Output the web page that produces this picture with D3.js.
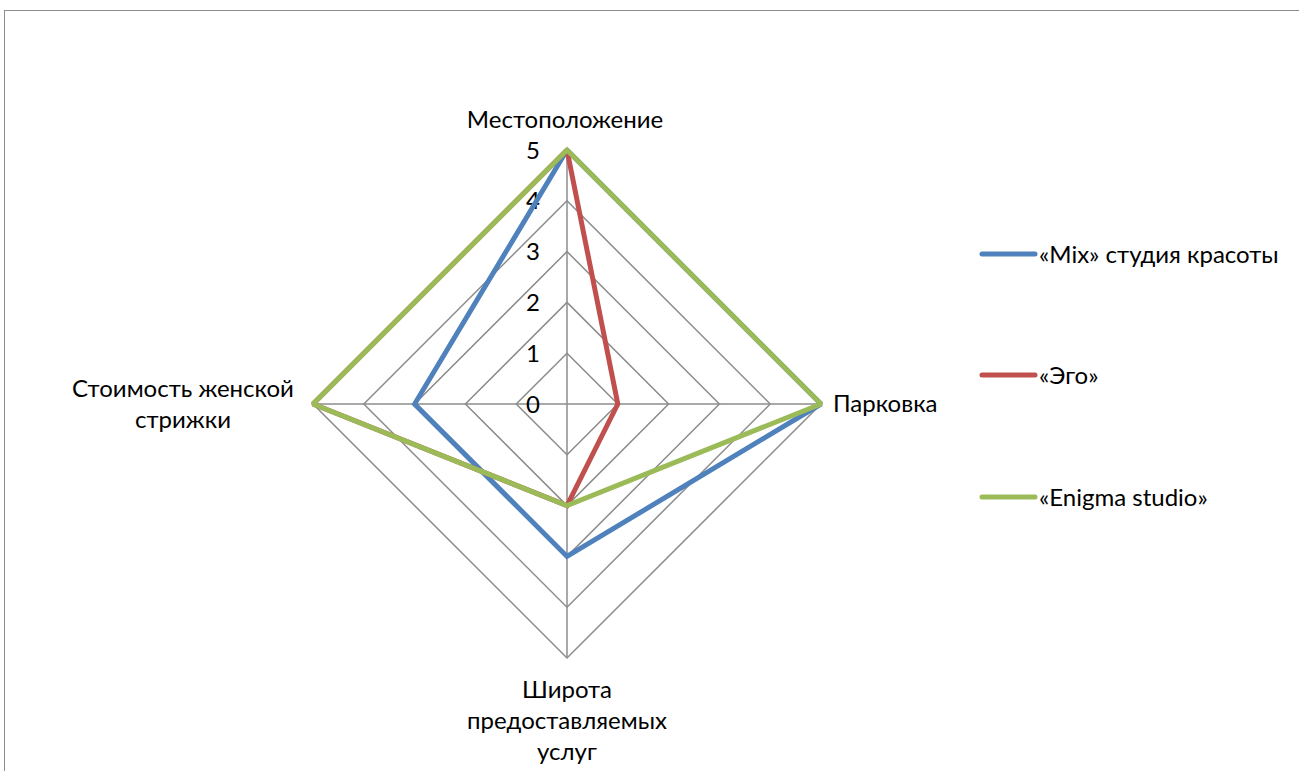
<!DOCTYPE html>
<html>
<head>
<meta charset="utf-8">
<script src="https://cdn.jsdelivr.net/npm/d3@7"></script>
<style>
  html, body { margin: 0; padding: 0; background: #fff; }
  svg { display: block; }
  text { font-family: Lato, "Open Sans", sans-serif; fill: #000; }
</style>
</head>
<body>
<svg id="chart" width="1299" height="771"></svg>
<script>
// Radar chart: salon comparison on four criteria (0–5 scale)
const axes = [
  ["Местоположение"],
  ["Парковка"],
  ["Широта", "предоставляемых", "услуг"],
  ["Стоимость женской", "стрижки"]
];
const seriesNames = ["«Mix» студия красоты", "«Эго»", "«Enigma studio»"];
const mixValues = [5, 5, 3, 3];
const egoValues = [5, 1, 2, 5];
const enigmaValues = [5, 5, 2, 5];
const tickValues = [0, 1, 2, 3, 4, 5];
const colors = ["#4F81BD", "#C0504D", "#9BBB59"];

const series = [mixValues, egoValues, enigmaValues];

const svg = d3.select("#chart");
const cx = 567, cy = 404, R = 254;

// outer chart frame
svg.append("rect")
  .attr("x", 4.5).attr("y", 10.5)
  .attr("width", 1400).attr("height", 900)
  .attr("fill", "none").attr("stroke", "#8c8c8c").attr("stroke-width", 1);

const r = d3.scaleLinear().domain([0, 5]).range([0, R]);
const angle = d3.scalePoint().domain(d3.range(axes.length)).range([0, 2 * Math.PI * (axes.length - 1) / axes.length]);

function pt(i, v) {
  const a = angle(i) - Math.PI / 2;
  return [cx + r(v) * Math.cos(a), cy + r(v) * Math.sin(a)];
}

const g = svg.append("g");

// rings
tickValues.filter(t => t > 0).forEach(t => {
  g.append("path")
    .attr("d", d3.line()(d3.range(axes.length).map(i => pt(i, t))) + "Z")
    .attr("fill", "none").attr("stroke", "#8c8c8c").attr("stroke-width", 1.5);
});

// spokes
d3.range(axes.length).forEach(i => {
  const p = pt(i, 5);
  g.append("line")
    .attr("x1", cx).attr("y1", cy).attr("x2", p[0]).attr("y2", p[1])
    .attr("stroke", "#8c8c8c").attr("stroke-width", 1.5);
});

// value ticks along the first axis
tickValues.forEach(t => {
  g.append("text")
    .attr("x", cx - 34).attr("y", cy - r(t))
    .attr("dy", "0.36em")
    .attr("text-anchor", "middle")
    .attr("font-size", 24)
    .text(t);
});

// series polygons
const line = d3.line().curve(d3.curveLinearClosed);
series.forEach((vals, s) => {
  g.append("path")
    .attr("d", line(vals.map((v, i) => pt(i, v))))
    .attr("fill", "none")
    .attr("stroke", colors[s])
    .attr("stroke-width", 5)
    .attr("stroke-linejoin", "miter")
    .attr("stroke-miterlimit", 1.5);
});

// category labels
const fs = 24, lh = 31;
function label(lines, x, y, anchor) {
  const t = svg.append("text").attr("font-size", fs).attr("text-anchor", anchor);
  lines.forEach((l, k) => {
    t.append("tspan").attr("x", x).attr("y", y + k * lh).text(l);
  });
}
label(axes[0], cx - 2, 128, "middle");
label(axes[1], pt(1, 5)[0] + 12, cy + 8, "start");
label(axes[2], cx, 698, "middle");
label(axes[3], 183, 397, "middle");

// legend
const legendY = [254, 375, 497];
seriesNames.forEach((name, s) => {
  svg.append("line")
    .attr("x1", 982).attr("x2", 1035)
    .attr("y1", legendY[s]).attr("y2", legendY[s])
    .attr("stroke", colors[s]).attr("stroke-width", 5).attr("stroke-linecap", "round");
  svg.append("text")
    .attr("x", 1039).attr("y", legendY[s]).attr("dy", "0.36em")
    .attr("font-size", fs).text(name);
});
</script>
</body>
</html>
